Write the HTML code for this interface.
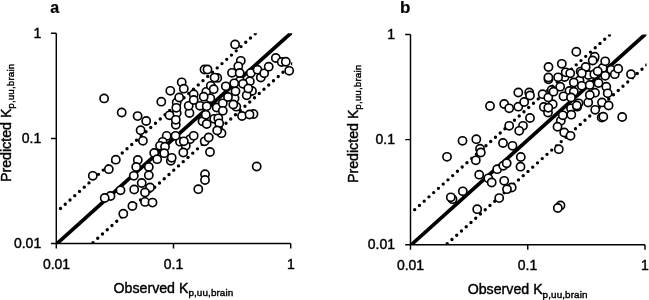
<!DOCTYPE html>
<html><head><meta charset="utf-8">
<style>
html,body{margin:0;padding:0;background:#fff;}
html{filter:grayscale(1);}
body{width:649px;height:300px;overflow:hidden;position:relative;font-family:"Liberation Sans",sans-serif;color:#111;}
svg{position:absolute;left:0;top:0;}
.t{position:absolute;font-size:14px;line-height:14px;white-space:nowrap;-webkit-text-stroke:0.42px #000;color:#000;}
.r{text-align:right;width:40px;}
.c{text-align:center;width:60px;}
.b{font-weight:bold;font-size:16px;line-height:16px;-webkit-text-stroke:0.2px #000;}
.ttl{font-size:14.2px;}
.ttl sub{font-size:9.9px;vertical-align:baseline;position:relative;top:3.4px;line-height:0;-webkit-text-stroke:0.4px #000;letter-spacing:0.1px;}
.v{transform-origin:0 0;transform:rotate(-90deg);}
circle{fill:#fff;stroke:#000;stroke-width:1.65;}
.dot{stroke:#000;stroke-width:3.4;stroke-linecap:round;stroke-dasharray:0 6.38;fill:none;}
.sol{stroke:#000;stroke-width:3.7;fill:none;}
.ax{stroke:#000;stroke-width:1.45;fill:none;}
</style></head><body>
<svg width="649" height="300" viewBox="0 0 649 300">
<clipPath id="ca"><rect x="56.3" y="33.3" width="235.89999999999998" height="210.2"/></clipPath>
<line x1="56.30" y1="212.21" x2="259.42" y2="30.06" class="dot" stroke-dashoffset="-5.64" clip-path="url(#ca)"/>
<line x1="91.58" y1="243.85" x2="294.70" y2="61.70" class="dot" stroke-dashoffset="-1.9" clip-path="url(#ca)"/>
<line x1="54.10" y1="246.20" x2="293.70" y2="30.60" class="sol" clip-path="url(#ca)"/>
<path d="M56.3 33.3 V248.5 M51.0 243.5 H290.7 M51.0 33.3 H56.3 M51.0 138.4 H56.3 M173.5 243.5 V248.5 M290.7 243.5 V248.5" class="ax"/>
<circle cx="190" cy="139.2" r="4.1"/>
<circle cx="180" cy="141.7" r="4.1"/>
<circle cx="204.7" cy="141.3" r="4.1"/>
<circle cx="202.5" cy="121.3" r="4.1"/>
<circle cx="221.5" cy="133.2" r="4.1"/>
<circle cx="170.8" cy="160.8" r="4.1"/>
<circle cx="175.8" cy="124.7" r="4.1"/>
<circle cx="206.3" cy="91.8" r="4.1"/>
<circle cx="217.3" cy="77.9" r="4.1"/>
<circle cx="176.7" cy="102.5" r="4.1"/>
<circle cx="176.7" cy="113" r="4.1"/>
<circle cx="193.7" cy="94.2" r="4.1"/>
<circle cx="200" cy="105.8" r="4.1"/>
<circle cx="210.3" cy="98.3" r="4.1"/>
<circle cx="260.8" cy="77.5" r="4.1"/>
<circle cx="181.7" cy="82.3" r="4.1"/>
<circle cx="210.8" cy="85.8" r="4.1"/>
<circle cx="240" cy="80.8" r="4.1"/>
<circle cx="252" cy="91" r="4.1"/>
<circle cx="236.3" cy="106.7" r="4.1"/>
<circle cx="253.5" cy="114" r="4.1"/>
<circle cx="249.8" cy="81.3" r="4.1"/>
<circle cx="234.6" cy="98.3" r="4.1"/>
<circle cx="235.1" cy="44.4" r="4.1"/>
<circle cx="240.8" cy="60.8" r="4.1"/>
<circle cx="238.3" cy="66.3" r="4.1"/>
<circle cx="232" cy="72.8" r="4.1"/>
<circle cx="239.7" cy="73" r="4.1"/>
<circle cx="204.5" cy="69.5" r="4.1"/>
<circle cx="207.5" cy="69.5" r="4.1"/>
<circle cx="214.6" cy="77.6" r="4.1"/>
<circle cx="250.8" cy="73" r="4.1"/>
<circle cx="257.5" cy="69.7" r="4.1"/>
<circle cx="264.2" cy="73.3" r="4.1"/>
<circle cx="268.7" cy="66.7" r="4.1"/>
<circle cx="275.8" cy="58" r="4.1"/>
<circle cx="281.7" cy="62" r="4.1"/>
<circle cx="285.8" cy="61.7" r="4.1"/>
<circle cx="289.2" cy="70.8" r="4.1"/>
<circle cx="234.2" cy="83.3" r="4.1"/>
<circle cx="246.7" cy="95.3" r="4.1"/>
<circle cx="161.3" cy="101.7" r="4.1"/>
<circle cx="170.3" cy="90.8" r="4.1"/>
<circle cx="183.8" cy="88.7" r="4.1"/>
<circle cx="189.5" cy="113" r="4.1"/>
<circle cx="216.7" cy="107.5" r="4.1"/>
<circle cx="222.8" cy="103.3" r="4.1"/>
<circle cx="222.8" cy="110.8" r="4.1"/>
<circle cx="228" cy="97" r="4.1"/>
<circle cx="242" cy="116" r="4.1"/>
<circle cx="214.2" cy="118.8" r="4.1"/>
<circle cx="218.3" cy="118.3" r="4.1"/>
<circle cx="104.1" cy="98.4" r="4.1"/>
<circle cx="121.7" cy="112.5" r="4.1"/>
<circle cx="137.6" cy="116.1" r="4.1"/>
<circle cx="146.2" cy="121" r="4.1"/>
<circle cx="140.6" cy="130.2" r="4.1"/>
<circle cx="142.9" cy="140.8" r="4.1"/>
<circle cx="115.8" cy="159.7" r="4.1"/>
<circle cx="137.8" cy="160" r="4.1"/>
<circle cx="154.2" cy="153" r="4.1"/>
<circle cx="157.2" cy="159.2" r="4.1"/>
<circle cx="166.7" cy="135.9" r="4.1"/>
<circle cx="162.7" cy="141.8" r="4.1"/>
<circle cx="160" cy="145.8" r="4.1"/>
<circle cx="165" cy="146.7" r="4.1"/>
<circle cx="164.2" cy="153.2" r="4.1"/>
<circle cx="175.5" cy="135.8" r="4.1"/>
<circle cx="185.8" cy="145.8" r="4.1"/>
<circle cx="183.3" cy="152.5" r="4.1"/>
<circle cx="210" cy="152" r="4.1"/>
<circle cx="256.7" cy="166.5" r="4.1"/>
<circle cx="108.8" cy="169.2" r="4.1"/>
<circle cx="92.8" cy="175.8" r="4.1"/>
<circle cx="136.2" cy="167" r="4.1"/>
<circle cx="133.8" cy="175.8" r="4.1"/>
<circle cx="148.8" cy="167" r="4.1"/>
<circle cx="148.8" cy="175.3" r="4.1"/>
<circle cx="141.7" cy="183" r="4.1"/>
<circle cx="150" cy="187.5" r="4.1"/>
<circle cx="134.2" cy="189.5" r="4.1"/>
<circle cx="145" cy="192.5" r="4.1"/>
<circle cx="120.5" cy="190.3" r="4.1"/>
<circle cx="110.5" cy="196" r="4.1"/>
<circle cx="104.7" cy="198" r="4.1"/>
<circle cx="145" cy="201.9" r="4.1"/>
<circle cx="152.5" cy="202.6" r="4.1"/>
<circle cx="132.4" cy="206" r="4.1"/>
<circle cx="205" cy="174.2" r="4.1"/>
<circle cx="205" cy="180" r="4.1"/>
<circle cx="198.3" cy="189.2" r="4.1"/>
<circle cx="123.3" cy="213.7" r="4.1"/>
<circle cx="179.2" cy="97.5" r="4.1"/>
<circle cx="176.3" cy="107.8" r="4.1"/>
<circle cx="169.5" cy="115.3" r="4.1"/>
<circle cx="188.7" cy="105.8" r="4.1"/>
<circle cx="193.7" cy="100" r="4.1"/>
<circle cx="206.7" cy="106.3" r="4.1"/>
<circle cx="203.7" cy="96.7" r="4.1"/>
<circle cx="205.8" cy="114.8" r="4.1"/>
<circle cx="243" cy="83.8" r="4.1"/>
<circle cx="248.3" cy="88.5" r="4.1"/>
<circle cx="225.8" cy="86.3" r="4.1"/>
<circle cx="235.5" cy="91.3" r="4.1"/>
<circle cx="233.3" cy="104.5" r="4.1"/>
<circle cx="249.5" cy="114.5" r="4.1"/>
<circle cx="213.7" cy="89.2" r="4.1"/>
<circle cx="193.7" cy="135.8" r="4.1"/>
<circle cx="183.8" cy="141.3" r="4.1"/>
<circle cx="208.7" cy="137.5" r="4.1"/>
<circle cx="206.7" cy="124" r="4.1"/>
<circle cx="219.2" cy="123.3" r="4.1"/>
<circle cx="217.2" cy="130.5" r="4.1"/>
<circle cx="171.7" cy="157.8" r="4.1"/>
<circle cx="175.8" cy="119.8" r="4.1"/>
<clipPath id="cb"><rect x="410.5" y="34.5" width="236.0" height="210.2"/></clipPath>
<line x1="410.50" y1="213.41" x2="613.70" y2="31.26" class="dot" stroke-dashoffset="-5.64" clip-path="url(#cb)"/>
<line x1="445.80" y1="245.05" x2="649.00" y2="62.90" class="dot" stroke-dashoffset="-1.9" clip-path="url(#cb)"/>
<line x1="408.30" y1="247.40" x2="648.00" y2="31.80" class="sol" clip-path="url(#cb)"/>
<path d="M410.5 34.5 V249.7 M405.2 244.7 H645.0 M405.2 34.5 H410.5 M405.2 139.6 H410.5 M527.75 244.7 V249.7 M645.0 244.7 V249.7" class="ax"/>
<circle cx="579.5" cy="80.5" r="4.1"/>
<circle cx="580.6" cy="71.6" r="4.1"/>
<circle cx="594.2" cy="58.5" r="4.1"/>
<circle cx="611.2" cy="69.8" r="4.1"/>
<circle cx="548.5" cy="79.3" r="4.1"/>
<circle cx="569.4" cy="91" r="4.1"/>
<circle cx="578.6" cy="103.3" r="4.1"/>
<circle cx="564.6" cy="77.0" r="4.1"/>
<circle cx="565.7" cy="72.3" r="4.1"/>
<circle cx="588.5" cy="75" r="4.1"/>
<circle cx="602.7" cy="68" r="4.1"/>
<circle cx="551.7" cy="90" r="4.1"/>
<circle cx="542.6" cy="94.2" r="4.1"/>
<circle cx="595" cy="92.7" r="4.1"/>
<circle cx="543.8" cy="107" r="4.1"/>
<circle cx="548" cy="112.5" r="4.1"/>
<circle cx="552.7" cy="104.2" r="4.1"/>
<circle cx="560.8" cy="120.8" r="4.1"/>
<circle cx="571" cy="108.3" r="4.1"/>
<circle cx="576.3" cy="51.7" r="4.1"/>
<circle cx="561.8" cy="63.8" r="4.1"/>
<circle cx="548.5" cy="67" r="4.1"/>
<circle cx="594.7" cy="56.7" r="4.1"/>
<circle cx="592.7" cy="60.5" r="4.1"/>
<circle cx="605.2" cy="61.3" r="4.1"/>
<circle cx="585.7" cy="67" r="4.1"/>
<circle cx="558.1" cy="77.3" r="4.1"/>
<circle cx="548.4" cy="77.4" r="4.1"/>
<circle cx="605.2" cy="75.8" r="4.1"/>
<circle cx="614.8" cy="74.2" r="4.1"/>
<circle cx="618.2" cy="68.7" r="4.1"/>
<circle cx="631" cy="74.2" r="4.1"/>
<circle cx="594.3" cy="74.2" r="4.1"/>
<circle cx="573.8" cy="82.5" r="4.1"/>
<circle cx="560.2" cy="86.7" r="4.1"/>
<circle cx="548.3" cy="97.5" r="4.1"/>
<circle cx="563.5" cy="96.3" r="4.1"/>
<circle cx="573.8" cy="91.7" r="4.1"/>
<circle cx="571" cy="97.5" r="4.1"/>
<circle cx="581.8" cy="85.8" r="4.1"/>
<circle cx="589.7" cy="85" r="4.1"/>
<circle cx="598.5" cy="83" r="4.1"/>
<circle cx="606.3" cy="86.7" r="4.1"/>
<circle cx="607.7" cy="93.3" r="4.1"/>
<circle cx="588.2" cy="102.5" r="4.1"/>
<circle cx="602" cy="102.4" r="4.1"/>
<circle cx="608.6" cy="105.5" r="4.1"/>
<circle cx="595.2" cy="109.8" r="4.1"/>
<circle cx="490" cy="106" r="4.1"/>
<circle cx="504.2" cy="104" r="4.1"/>
<circle cx="509.2" cy="108.3" r="4.1"/>
<circle cx="518.3" cy="106.7" r="4.1"/>
<circle cx="518.3" cy="92.5" r="4.1"/>
<circle cx="524.2" cy="102" r="4.1"/>
<circle cx="529.2" cy="92.5" r="4.1"/>
<circle cx="530" cy="95.5" r="4.1"/>
<circle cx="530" cy="118" r="4.1"/>
<circle cx="509.2" cy="125.8" r="4.1"/>
<circle cx="523" cy="125.8" r="4.1"/>
<circle cx="519.2" cy="130.8" r="4.1"/>
<circle cx="462.5" cy="140.8" r="4.1"/>
<circle cx="476.3" cy="139.2" r="4.1"/>
<circle cx="503" cy="143" r="4.1"/>
<circle cx="512.5" cy="145.8" r="4.1"/>
<circle cx="480" cy="148.7" r="4.1"/>
<circle cx="480.8" cy="152.5" r="4.1"/>
<circle cx="557.5" cy="126.7" r="4.1"/>
<circle cx="564.2" cy="132.5" r="4.1"/>
<circle cx="570.5" cy="135.8" r="4.1"/>
<circle cx="558.8" cy="149.2" r="4.1"/>
<circle cx="577.2" cy="106.7" r="4.1"/>
<circle cx="601.7" cy="117.5" r="4.1"/>
<circle cx="603.3" cy="116.7" r="4.1"/>
<circle cx="622.2" cy="117" r="4.1"/>
<circle cx="447" cy="156.8" r="4.1"/>
<circle cx="475.8" cy="160.3" r="4.1"/>
<circle cx="479.2" cy="174.7" r="4.1"/>
<circle cx="488.3" cy="178.3" r="4.1"/>
<circle cx="491.7" cy="182.5" r="4.1"/>
<circle cx="497.2" cy="169.2" r="4.1"/>
<circle cx="503.3" cy="165.8" r="4.1"/>
<circle cx="506.7" cy="163.3" r="4.1"/>
<circle cx="520.8" cy="157" r="4.1"/>
<circle cx="520.5" cy="166.7" r="4.1"/>
<circle cx="504.2" cy="180.8" r="4.1"/>
<circle cx="511.7" cy="187.5" r="4.1"/>
<circle cx="507" cy="189.2" r="4.1"/>
<circle cx="462.8" cy="191.3" r="4.1"/>
<circle cx="452.5" cy="199.2" r="4.1"/>
<circle cx="450.8" cy="197.3" r="4.1"/>
<circle cx="499.2" cy="198.1" r="4.1"/>
<circle cx="477.2" cy="209.2" r="4.1"/>
<circle cx="560.5" cy="205.5" r="4.1"/>
<circle cx="557.8" cy="208" r="4.1"/>
<circle cx="570.2" cy="73.3" r="4.1"/>
<circle cx="581.8" cy="73.3" r="4.1"/>
<circle cx="597.7" cy="71.3" r="4.1"/>
<circle cx="553.5" cy="91.7" r="4.1"/>
<circle cx="589.8" cy="95" r="4.1"/>
<circle cx="548.3" cy="107.8" r="4.1"/>
<circle cx="562.8" cy="115.3" r="4.1"/>
<circle cx="576.8" cy="105.5" r="4.1"/>
<circle cx="571.3" cy="114.7" r="4.1"/>
</svg>
<div class="t b" style="left:50.2px;top:0.3px;">a</div>
<div class="t b" style="left:400.1px;top:0.2px;font-size:17px;">b</div>

<div class="t r" style="left:1.2px;top:25.8px;">1</div>
<div class="t r" style="left:1.2px;top:130.8px;">0.1</div>
<div class="t r" style="left:1.2px;top:235.8px;">0.01</div>
<div class="t c" style="left:26.5px;top:257px;">0.01</div>
<div class="t c" style="left:143.5px;top:257px;">0.1</div>
<div class="t c" style="left:261px;top:257px;">1</div>
<div class="t ttl" style="left:113.5px;top:281px;">Observed K<sub>p,uu,brain</sub></div>
<div class="t ttl v" style="left:-0.9px;top:181.5px;">Predicted K<sub>p,uu,brain</sub></div>

<div class="t r" style="left:355px;top:27.1px;">1</div>
<div class="t r" style="left:355px;top:132.1px;">0.1</div>
<div class="t r" style="left:355px;top:237.1px;">0.01</div>
<div class="t c" style="left:380.5px;top:258px;">0.01</div>
<div class="t c" style="left:497.5px;top:258px;">0.1</div>
<div class="t c" style="left:615px;top:258px;">1</div>
<div class="t ttl" style="left:467.7px;top:282.2px;">Observed K<sub>p,uu,brain</sub></div>
<div class="t ttl v" style="left:346.4px;top:182.5px;">Predicted K<sub>p,uu,brain</sub></div>
</body></html>
